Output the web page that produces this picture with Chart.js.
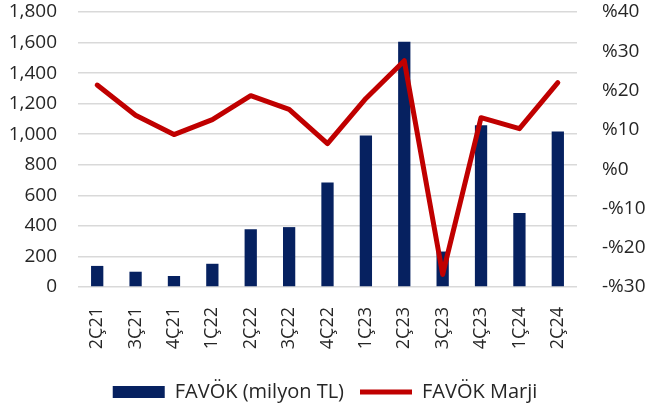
<!DOCTYPE html>
<html>
<head>
<meta charset="utf-8">
<script src="https://cdn.jsdelivr.net/npm/chart.js@4.4.1/dist/chart.umd.min.js"></script>
<style>
  html, body { margin: 0; padding: 0; background: #ffffff; }
  #wrap { width: 650px; height: 408px; }
</style>
</head>
<body>
<div id="wrap"><canvas id="c" width="650" height="408"></canvas></div>
<script>
const categories = ['2Ç21','3Ç21','4Ç21','1Ç22','2Ç22','3Ç22','4Ç22','1Ç23','2Ç23','3Ç23','4Ç23','1Ç24','2Ç24'];
const favok = [138, 100, 72, 152, 378, 392, 684, 992, 1605, 232, 1058, 484, 1018];
const favokMarji = [21.4, 13.7, 8.8, 12.6, 18.7, 15.2, 6.5, 18.0, 27.6, -26.8, 13.1, 10.3, 22.0];
const leftTicks = { min: 0, max: 1800, step: 200 };
const rightTicks = { min: -30, max: 40, step: 10 };
const seriesNames = ['FAVÖK (milyon TL)', 'FAVÖK Marji'];

const FONT = '"Open Sans", "Noto Sans", sans-serif';
const TXT = '#262626';

new Chart(document.getElementById('c'), {
  data: {
    labels: categories,
    datasets: [
      {
        type: 'bar',
        label: seriesNames[0],
        data: favok,
        yAxisID: 'y',
        backgroundColor: '#062160',
        borderWidth: 0,
        categoryPercentage: 1,
        barPercentage: 0.32,
        order: 2,
        pointStyle: 'rect'
      },
      {
        type: 'line',
        label: seriesNames[1],
        data: favokMarji,
        yAxisID: 'y1',
        borderColor: '#C00000',
        backgroundColor: '#C00000',
        borderWidth: 5,
        borderCapStyle: 'round',
        borderJoinStyle: 'round',
        pointRadius: 0,
        tension: 0,
        order: 1,
        pointStyle: 'line'
      }
    ]
  },
  options: {
    responsive: false,
    animation: false,
    layout: { padding: { top: 12, bottom: -4, left: 0, right: 0 } },
    plugins: {
      tooltip: { enabled: false },
      legend: {
        position: 'bottom',
        labels: {
          usePointStyle: true,
          pointStyleWidth: 52,
          boxHeight: 12,
          padding: 16,
          color: TXT,
          font: { family: FONT, size: 20 },
          sort: (a, b) => a.datasetIndex - b.datasetIndex
        }
      }
    },
    scales: {
      x: {
        grid: { display: false, drawTicks: false },
        border: { display: false },
        ticks: {
          color: TXT,
          font: { family: FONT, size: 18 },
          minRotation: 90,
          maxRotation: 90,
          padding: 20,
          autoSkip: false
        },
        afterFit: (s) => { s.height = 79; }
      },
      y: {
        position: 'left',
        min: leftTicks.min,
        max: leftTicks.max,
        grid: { color: '#D9D9D9', lineWidth: 1.5, drawTicks: false },
        border: { display: false },
        ticks: {
          stepSize: leftTicks.step,
          color: TXT,
          font: { family: FONT, size: 19 },
          padding: 21,
          callback: (v) => Number(v).toLocaleString('en-US')
        },
        afterFit: (s) => { s.width = 78; s.paddingTop = 0; s.paddingBottom = 0; }
      },
      y1: {
        position: 'right',
        min: rightTicks.min,
        max: rightTicks.max,
        grid: { display: false, drawTicks: false },
        border: { display: false },
        ticks: {
          stepSize: rightTicks.step,
          color: TXT,
          font: { family: FONT, size: 19 },
          padding: 25,
          callback: (v) => (v < 0 ? '-%' + Math.abs(v) : '%' + v)
        },
        afterFit: (s) => { s.width = 73; s.paddingTop = 0; s.paddingBottom = 0; }
      }
    }
  }
});
</script>
</body>
</html>
